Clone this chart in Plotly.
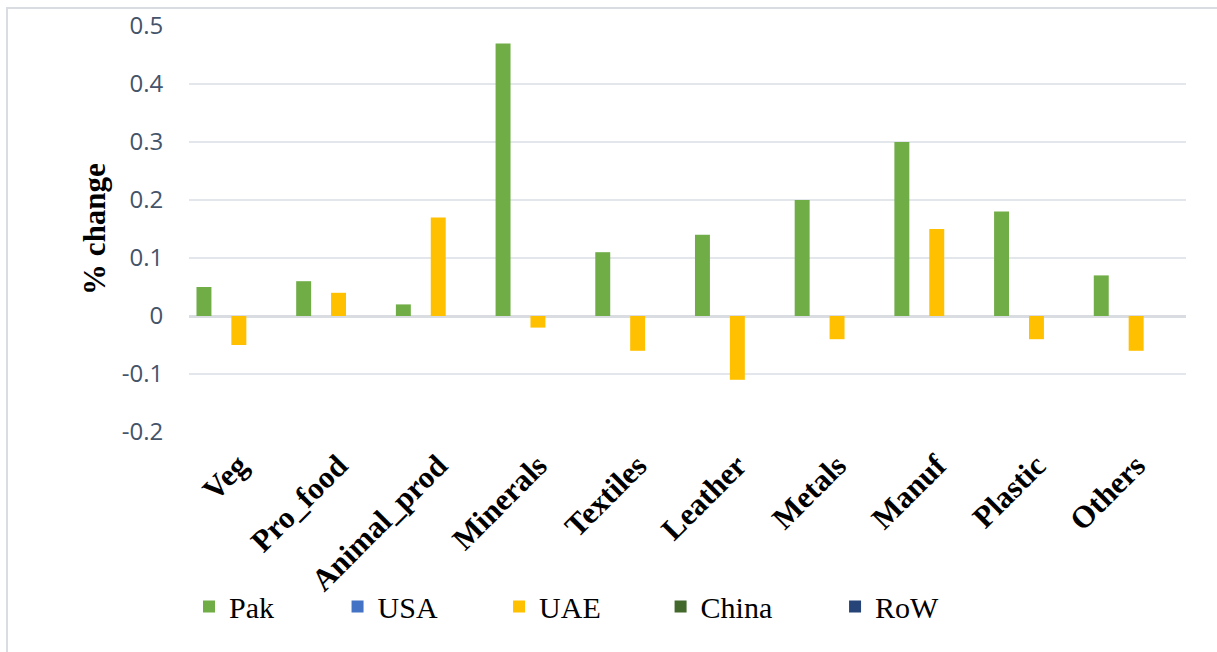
import plotly.graph_objects as go

categories = ["Veg", "Pro_food", "Animal_prod", "Minerals", "Textiles",
              "Leather", "Metals", "Manuf", "Plastic", "Others"]
pak = [0.05, 0.06, 0.02, 0.47, 0.11, 0.14, 0.20, 0.30, 0.18, 0.07]
usa = [0, 0, 0, 0, 0, 0, 0, 0, 0, 0]
uae = [-0.05, 0.04, 0.17, -0.02, -0.06, -0.11, -0.04, 0.15, -0.04, -0.06]
china = [0, 0, 0, 0, 0, 0, 0, 0, 0, 0]
row = [0, 0, 0, 0, 0, 0, 0, 0, 0, 0]
series_names = ["Pak", "USA", "UAE", "China", "RoW"]
colors = ["#70AD47", "#4472C4", "#FFC000", "#43682B", "#264478"]
ytick_vals = [-0.2, -0.1, 0, 0.1, 0.2, 0.3, 0.4, 0.5]
ytick_text = ["-0.2", "-0.1", "0", "0.1", "0.2", "0.3", "0.4", "0.5"]

W, H = 1217, 652
L, R, T, B = 189, 31, 26, 220
pw = W - L - R
ph = H - T - B

serif = "Liberation Serif"

# legend entry x positions (paper fraction)
legend_x = [0.0, 0.149, 0.311, 0.473, 0.648]

fig = go.Figure()
layout_legends = {}
for i, (name, vals, col) in enumerate(zip(series_names, [pak, usa, uae, china, row], colors)):
    lname = "legend" if i == 0 else f"legend{i + 1}"
    fig.add_trace(go.Bar(x=categories, y=vals, name=name, legend=lname,
                         marker=dict(color=col, line=dict(width=0))))
    layout_legends[lname] = dict(
        orientation="h", x=legend_x[i], xanchor="left", y=-0.43, yanchor="middle",
        font=dict(family=serif, size=30, color="black"),
        bgcolor="rgba(0,0,0,0)")

fig.update_layout(
    width=W, height=H,
    margin=dict(l=L, r=R, t=T, b=B, autoexpand=False),
    paper_bgcolor="white", plot_bgcolor="white",
    barmode="group", bargap=0.125, bargroupgap=0.143,
    showlegend=True,
    xaxis=dict(tickangle=-45,
               tickfont=dict(family=serif, size=31, color="black", weight="bold"),
               showgrid=False, showline=False, zeroline=False, automargin=False,
               ticks="outside", ticklen=2, tickcolor="rgba(0,0,0,0)"),
    yaxis=dict(range=[-0.2, 0.5], tickvals=ytick_vals, ticktext=ytick_text,
               tickfont=dict(family="Open Sans, sans-serif", size=24, color="#44546A"),
               showgrid=True, gridcolor="#E3E6EA", gridwidth=2,
               zeroline=True, zerolinecolor="#D9DDE2", zerolinewidth=3,
               showline=False, automargin=False,
               ticks="outside", ticklen=20, tickcolor="rgba(0,0,0,0)",
               title=dict(text="<b>% change</b>", standoff=6,
                          font=dict(family=serif, size=31, color="black"))),
    **layout_legends,
)

fig.add_shape(type="rect", xref="paper", yref="paper",
              x0=(7 - L) / pw, x1=(W + 10 - L) / pw,
              y0=-(H + 10 - (H - B)) / ph, y1=((H - B) - 8) / ph,
              line=dict(color="#D9DDE2", width=2), fillcolor="rgba(0,0,0,0)",
              layer="below")

fig.write_html("out.html")
